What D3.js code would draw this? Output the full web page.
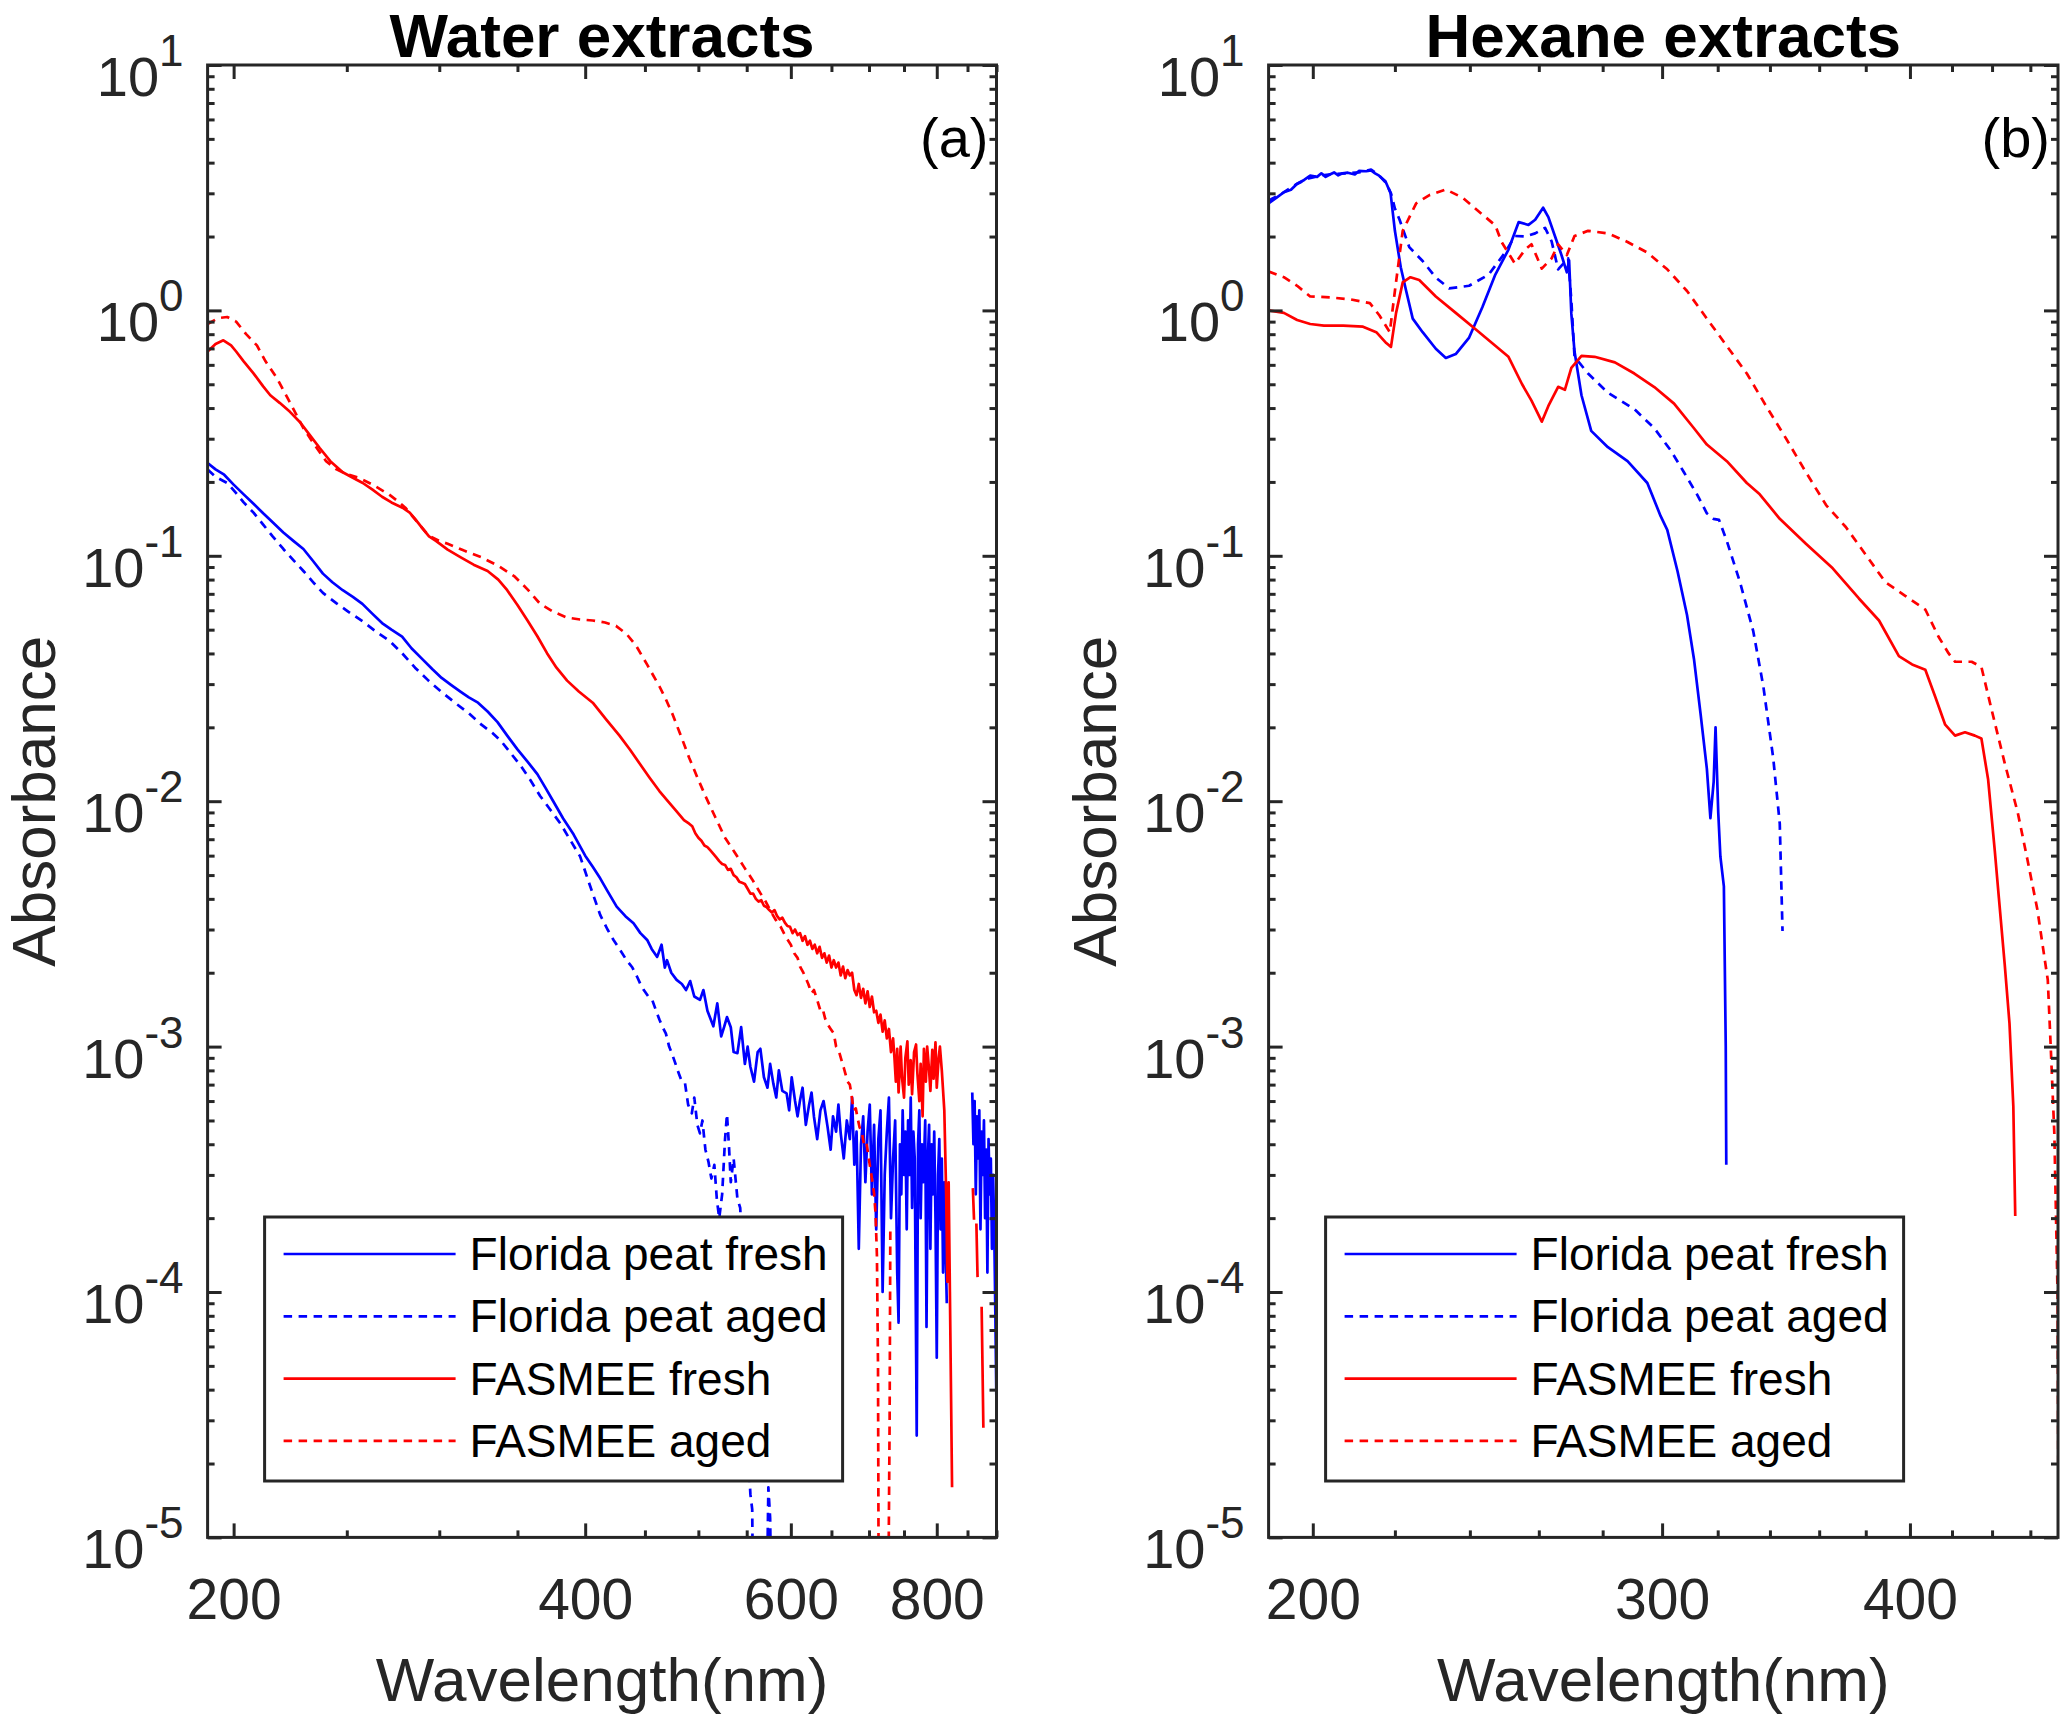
<!DOCTYPE html>
<html lang="en">
<head>
<meta charset="utf-8">
<style>
  body { margin: 0; background: #fff; }
  svg { display: block; font-family: "Liberation Sans", Arial, Helvetica, sans-serif; }
</style>
<script src="https://cdn.jsdelivr.net/npm/d3@7"></script>
</head>
<body>
<script>
// ---- data: [wavelength nm, absorbance] ; null = gap (value <= 0 in the log plot)

// Water extracts
const waterPeatFresh = [
  [190,0.239],[193,0.225],[196.3,0.214],[200,0.195],[204,0.178],[208,0.163],[212,0.149],[216,0.137],
  [220.6,0.1244],[225,0.115],[229.5,0.1066],[234,0.095],[238.5,0.0846],[243,0.078],[248,0.0724],[253,0.068],
  [257.8,0.0637],[263,0.058],[268,0.0532],[273,0.05],[278.8,0.0468],[284,0.042],[290,0.038],[296,0.0345],
  [301.4,0.0318],[307,0.0298],[313,0.0279],[318,0.0265],[323.8,0.0252],[330,0.0232],[336.5,0.021],[343,0.0185],
  [350,0.01626],[357,0.0145],[364,0.0129],[370,0.0113],[375.8,0.00995],[383,0.0085],[391,0.00731],[400,0.006],
  [406,0.0054],[412,0.00485],[418,0.0043],[425.6,0.00372],[433,0.0034],[440,0.00318],[446,0.0029],[452,0.00272],
  [456,0.0025],[461,0.00232],[465,0.0026],[468,0.0021],[470,0.00225],[474,0.002],[479,0.00187],[484,0.0018],
  [488,0.0017],[492,0.00185],[496,0.0016],[501.6,0.00155],[505,0.0017],[509,0.0014],[515,0.00121],[519,0.0015],
  [523,0.0011],[526,0.0012],[529,0.00132],[533,0.0012],[536,0.00095],[540,0.00094],[544,0.0012],[548,0.00085],
  [551,0.001],[554,0.000828],[558,0.00072],[562,0.00095],[565,0.00098],[569,0.00075],[573,0.00068],[576,0.00085],
  [579.6,0.000708],[583,0.00062],[586,0.0008],[590,0.00066],[595,0.000645],[598,0.00055],[601,0.00075],[605,0.0006],
  [608,0.00052],[611,0.000605],[614,0.00068],[618,0.00048],[622,0.00058],[625,0.00065],[628,0.000518],[632,0.00042],
  [636,0.00055],[640,0.0006],[645,0.000472],[649,0.00038],[652,0.00052],[656,0.00045],[659,0.00058],[662,0.000443],
  [666,0.00035],[670,0.0005],[674,0.00042],[677,0.00062],[680,0.00033],[683,0.00045],[686,0.00015],[689,0.0004],
  [692,0.00052],[695,0.00028],[698,0.00045],[701,0.00058],[704,0.00025],[707,0.00048],[710,0.00018],[713,0.00042],
  [716,0.00055],[719,0.0001],[722,0.0003],[725,0.00045],[728,0.00062],[731,0.0002],[734,0.00035],[737,0.0005],
  [740,0.00012],[742,0.000075],[744,0.0004],[746,0.00025],[748,0.00055],[750,0.0003],[752,0.00045],[754,0.00018],
  [756,0.0005],[758,0.0003],[760,0.00062],[762,0.00022],[764,0.00045],[766,0.00035],[769,0.000026],[771,0.0004],
  [773,0.00055],[775,0.0002],[777,0.0004],[779,0.00028],[782,0.0005],[784,0.000072],[786,0.00035],[788,0.00048],
  [790,0.00015],[792,0.0004],[794,0.00025],[796,0.00045],[798,0.0002],[800,0.000054],[802,0.0003],[804,0.00042],
  [806,0.00018],[808,0.00035],[810,0.00012],[812,0.00028],[814,0.00015],[816,0.00009],[818,null],
  [858,0.00065],[860,0.0004],[862,0.0006],[864,0.00025],[866,0.00052],[868,0.00035],[870,0.00055],[872,0.00018],
  [874,0.00045],[876,0.0003],[878,0.0005],[880,0.0002],[882,0.00038],[884,0.00012],[886,0.00042],[888,0.00025],
  [890,0.00035],[892,0.00015],[894,0.0003],[896,0.00018],[898,0.00008],[900,0.000033]
];

const waterPeatAged = [
  [190,0.225],[193,0.21],[197.5,0.198],[201,0.18],[204,0.165],[208,0.15],[212,0.134],[216,0.12],
  [220.6,0.1066],[225,0.096],[229.5,0.0867],[234,0.078],[238.5,0.0706],[245,0.064],[251,0.059],[258,0.054],
  [264.7,0.0492],[272,0.045],[278.8,0.0401],[286,0.035],[293.7,0.031],[301,0.028],[309.4,0.0252],[318,0.0228],
  [326,0.0205],[333,0.019],[338.8,0.0176],[345,0.0158],[352.4,0.0139],[359,0.0122],[366,0.0105],[373,0.0093],
  [381,0.0081],[388,0.007],[396,0.00596],[404,0.0045],[412,0.00344],[418,0.003],[423,0.00272],[428,0.0025],
  [434,0.00225],[439,0.0021],[443,0.00193],[446,0.0018],[449,0.0017],[453,0.0016],[456.5,0.00155],[460,0.0014],
  [463,0.00129],[466,0.0012],[469,0.00113],[472,0.001],[474.5,0.00094],[478,0.00085],[481,0.000778],[484,0.00072],
  [487,0.00071],[490,0.00058],[493.6,0.000535],[496,0.00062],[499,0.00048],[501.6,0.000443],[504,0.0005],[507,0.00038],
  [510,0.00034],[513,0.00029],[516,0.00033],[518.6,0.000237],[521,0.0002],[524,0.00025],[527,0.00042],[529,0.00053],
  [531,0.0004],[533,0.00028],[536,0.00035],[540,0.00024],[543,0.00022],[545,0.00015],[548,0.00008],[551,0.000025],
  [554,0.000015],[556,0.000013],[557,0.000005],[560,null],
  [572,0.000005],[574,0.000016],[576,0.000012],[578,0.000004],[580,null]
];

const waterFasFresh = [
  [190,0.68],[193,0.73],[196,0.755],[199,0.72],[201,0.68],[204,0.62],[208,0.554],[212,0.49],
  [215,0.451],[219,0.42],[223.5,0.386],[228,0.35],[232,0.314],[237,0.275],[242,0.243],[248,0.219],
  [253,0.208],[258,0.198],[263,0.186],[268,0.174],[273,0.165],[279,0.157],[283,0.15],[286,0.1415],
  [290,0.13],[294,0.12],[298,0.115],[305,0.106],[313,0.0986],[321,0.092],[330,0.0867],[337,0.08],
  [343,0.0724],[350,0.063],[357,0.0545],[364,0.047],[371,0.0401],[378,0.035],[386,0.031],[395,0.028],
  [406,0.0252],[417,0.0215],[428,0.0185],[437,0.0162],[445,0.0143],[454,0.0125],[463,0.011],[470,0.0101],
  [478,0.0092],[486,0.00837],[491,0.0081],[494,0.0079],[497,0.0074],[500,0.0071],[503,0.0069],[506,0.0066],
  [509,0.0065],[512,0.0063],[515,0.0061],[518,0.0059],[521,0.0057],[524,0.00555],[527,0.0055],[530,0.00525],
  [533,0.0053],[536,0.005],[539,0.0049],[542,0.0047],[545,0.00465],[548,0.0046],[551,0.0044],[554,0.0042],
  [557,0.0042],[560,0.004],[563,0.0039],[566,0.00395],[569,0.00375],[572,0.0037],[575,0.0036],[578,0.00352],
  [581,0.0036],[584,0.0034],[587,0.0033],[590,0.00335],[593,0.0032],[596,0.0031],[599,0.00308],[602,0.0029],
  [605,0.003],[608,0.00285],[611,0.0029],[614,0.0027],[617,0.00282],[620,0.0026],[623,0.0027],[626,0.0025],
  [629,0.0026],[632,0.0024],[635,0.00255],[638,0.0023],[641,0.0024],[644,0.0022],[647,0.00235],[650,0.0021],
  [653,0.00225],[656,0.0021],[659,0.0022],[662,0.00195],[665,0.00212],[668,0.0019],[671,0.00205],[674,0.00195],
  [677,0.002],[680,0.0017],[683,0.00162],[686,0.0018],[689,0.00158],[692,0.00172],[695,0.0015],[698,0.00168],
  [701,0.00145],[704,0.0016],[707,0.00138],[710,0.0014],[713,0.00125],[716,0.00135],[719,0.00115],[722,0.00128],
  [725,0.00108],[728,0.00118],[731,0.00095],[734,0.00108],[736,0.0009],[738,0.00072],[740,0.00098],[742,0.00065],
  [745,0.001],[747,0.00075],[750,0.00062],[752,0.0009],[755,0.00105],[757,0.0007],[760,0.00088],[762,0.00064],
  [765,0.00095],[768,0.00102],[770,0.00078],[773,0.0006],[775,0.00085],[778,0.00052],[780,0.00098],[783,0.00072],
  [785,0.001],[788,0.0008],[790,0.00066],[793,0.00097],[795,0.00074],[798,0.00104],[800,0.00068],[803,0.0009],
  [805,0.001],[808,0.0008],[812,0.00055],[815,0.00025],[817,0.00011],[819,0.00028],[821,0.0001],[823,0.000035],
  [824.5,0.000016],[826,null],
  [859,0.000265],[861,0.000197],[863,null],[865,0.00019],[867,0.000115],[870,null],
  [874,0.000087],[875.5,0.00005],[877,0.000028],[879,null]
];

const waterFasAged = [
  [190,0.88],[194,0.93],[197.5,0.94],[201,0.9],[205,0.8],[209.4,0.72],[213,0.62],[217.8,0.53],
  [223,0.43],[229.5,0.331],[235,0.28],[240,0.243],[245,0.225],[250,0.215],[256,0.208],[263,0.195],
  [271.6,0.178],[276,0.168],[280.6,0.157],[287,0.138],[293.7,0.121],[300,0.115],[305,0.112],[315,0.105],
  [326,0.0986],[337,0.091],[348,0.0824],[357,0.073],[366,0.0637],[376,0.059],[386,0.056],[396,0.055],
  [406,0.0545],[416,0.0535],[425,0.0518],[434,0.048],[442,0.0432],[452,0.036],[463,0.0294],[469,0.026],
  [475,0.0227],[483,0.0185],[491,0.01503],[499,0.0125],[507,0.0105],[517,0.0086],[527,0.0071],[537,0.0062],
  [547,0.0054],[556,0.0048],[565,0.00422],[571,0.0039],[576,0.0036],[582,0.0033],[588,0.00308],[594,0.0028],
  [600,0.0026],[604,0.0024],[608,0.0023],[611,0.00212],[615,0.002],[618,0.0019],[621,0.0018],[625,0.00165],
  [628,0.0017],[632,0.00155],[636,0.0014],[639,0.00142],[642,0.0013],[646,0.00122],[649,0.00118],[653,0.00113],
  [656,0.001],[660,0.00095],[663,0.00088],[666,0.00082],[668,0.000778],[671,0.00072],[674,0.0007],[676,0.000645],
  [679,0.00055],[682,0.00056],[684,0.000518],[687,0.00047],[690,0.00045],[693,0.0004],[696,0.00041],[698,0.000379],
  [701,0.00033],[704,0.00029],[707,0.000252],[709,0.00021],[711,0.00014],[712.5,0.00005],[713.5,0.000005],
  [720,0.000002],[727,0.000005],[729,0.00003],[730,0.00018],[731,null]
];

// Hexane extracts
const hexPeatFresh = [
  [190,2.73],[192,2.9],[193.4,3.03],[195,3.1],[196.4,3.28],[198,3.4],[199.4,3.54],[201,3.5],
  [202,3.62],[203,3.5],[204,3.58],[205,3.65],[206,3.55],[207,3.62],[208.3,3.64],[210,3.58],
  [211,3.7],[212.8,3.69],[214,3.72],[215,3.62],[216,3.54],[217.6,3.36],[218.9,3.0],[220,2.11],
  [221.5,1.5],[222.9,1.2],[224.6,0.926],[227.2,0.815],[230.7,0.698],[233.4,0.64],[236.1,0.664],[239.8,0.775],
  [243.5,1.03],[247.2,1.4],[251,1.77],[254,2.29],[256.9,2.23],[258.9,2.34],[261.3,2.62],[262.9,2.4],
  [264.9,2.01],[267,1.67],[268.6,1.43],[269.3,1.6],[270,0.97],[271,0.68],[273.2,0.451],[276.3,0.323],
  [281.7,0.277],[288.2,0.243],[294.9,0.198],[299.5,0.145],[301.8,0.1276],[305.4,0.0867],[308.8,0.0574],[311.3,0.038],
  [313.7,0.0227],[316,0.01355],[317.3,0.00853],[318.5,0.012],[319.2,0.02],[320.2,0.009],[321,0.00594],[322.3,0.0045],
  [323,0.001],[323.2,0.00033]
];

const hexPeatAged = [
  [190,2.8],[193,3.0],[196,3.25],[199,3.45],[202,3.55],[205,3.6],[208,3.62],[211,3.65],
  [214,3.75],[216,3.55],[217.8,3.3],[219,3.0],[220,2.6],[221.2,2.34],[223.7,1.81],[227.2,1.59],
  [230.7,1.36],[234.3,1.23],[239.8,1.26],[245.3,1.4],[250,1.72],[252.9,2.01],[255.9,2.0],[258.9,2.06],
  [261.9,2.17],[263.9,1.91],[265.9,1.47],[267.5,1.55],[269,1.63],[270,1.1],[271,0.647],[275.3,0.553],
  [281.7,0.462],[290.5,0.396],[297.3,0.331],[303,0.269],[307.7,0.219],[312.4,0.178],[316,0.149],[318.4,0.1415],
  [320.5,0.14],[323.4,0.115],[328.4,0.078],[333.5,0.0492],[337.4,0.0294],[341.3,0.015],[343.9,0.0081],[345,0.00296]
];

const hexFasFresh = [
  [190,1.0],[193.4,0.977],[196.4,0.914],[199.4,0.88],[202.6,0.867],[207.2,0.867],[212,0.858],[215.3,0.815],
  [217.8,0.736],[219,0.71],[220.3,0.977],[222,1.3],[224,1.365],[226.3,1.33],[230.7,1.14],[236.1,0.977],
  [241.6,0.838],[247.2,0.718],[251,0.647],[255,0.5],[257.8,0.429],[260.9,0.352],[262.9,0.408],[265.9,0.488],
  [268,0.475],[270,0.583],[273.2,0.653],[277.4,0.647],[284,0.614],[290.5,0.553],[297.3,0.487],[304.2,0.417],
  [311.3,0.331],[316,0.284],[323.4,0.243],[331,0.198],[336,0.178],[343.9,0.1415],[354.5,0.112],[365.7,0.0889],
  [377,0.067],[385.9,0.0545],[394.9,0.039],[401,0.0361],[407.2,0.0343],[412,0.0265],[416.7,0.0205],[421.5,0.0185],
  [426.4,0.0191],[431.3,0.0185],[434.6,0.018],[438,0.01225],[441.4,0.00627],[443.5,0.00404],[446.5,0.00217],[449,0.00124],
  [451,0.00057],[452,0.000204]
];

const hexFasAged = [
  [190,1.44],[193.4,1.365],[196.4,1.26],[199.4,1.14],[204,1.13],[208.8,1.11],[213.7,1.07],[216.1,0.953],
  [218.7,0.815],[220,1.2],[222,2.11],[225.5,2.73],[229,2.95],[233.4,3.11],[238,2.88],[243.5,2.46],
  [247.2,2.22],[249,1.9],[252.9,1.55],[255.9,1.77],[257.8,1.86],[260.9,1.48],[263.9,1.63],[265.9,1.86],
  [268.6,1.68],[271,2.01],[275.3,2.11],[281.7,2.06],[288.2,1.9],[294.9,1.72],[301.8,1.47],[308.8,1.2],
  [316,0.926],[323.4,0.716],[331,0.553],[338.6,0.406],[346.6,0.2985],[354.5,0.219],[362.9,0.161],[371.3,0.131],
  [380,0.101],[388.8,0.078],[397.8,0.0687],[407.2,0.0604],[413.5,0.0468],[418.3,0.0401],[421.5,0.037],[429.7,0.037],
  [434.6,0.0352],[439.6,0.0239],[446.5,0.0143],[453.3,0.009],[458.4,0.0058],[463.7,0.00364],[469.4,0.00187],[471,0.001],
  [473,0.00044],[474.8,0.000095],[475.2,0.000017]
];

// ticks and labels
const waterMajor = [200, 400, 600, 800];
const waterMinor = [250, 300, 350, 450, 500, 550, 650, 700, 750, 850, 900];
const hexMajor = [200, 300, 400];
const hexMinor = [220, 240, 260, 280, 320, 340, 360, 380, 420, 440, 460];
const yExponents = [-5, -4, -3, -2, -1, 0, 1];
const yMinorMult = [2, 3, 4, 5, 6, 7, 8, 9];
const seriesNames = ["Florida peat fresh", "Florida peat aged", "FASMEE fresh", "FASMEE aged"];

// ---- layout
const W = 2067, H = 1718;
const plotTop = 65, plotBottom = 1537.4;
const axisColor = "#262626";
const dash = "8.5,6.5";
const seriesStyle = [
  { color: "#0000ff", dash: null },
  { color: "#0000ff", dash: dash },
  { color: "#ff0000", dash: null },
  { color: "#ff0000", dash: dash }
];

const panels = [
  { id: "a", title: "Water extracts", tag: "(a)", left: 207.6, right: 996.5, domain: [190, 900],
    major: waterMajor, minor: waterMinor,
    series: [waterPeatFresh, waterPeatAged, waterFasFresh, waterFasAged] },
  { id: "b", title: "Hexane extracts", tag: "(b)", left: 1268.6, right: 2058, domain: [190, 475],
    major: hexMajor, minor: hexMinor,
    series: [hexPeatFresh, hexPeatAged, hexFasFresh, hexFasAged] }
];

const svg = d3.select("body").append("svg")
  .attr("width", W)
  .attr("height", H);

const defs = svg.append("defs");

const y = d3.scaleLog().domain([1e-5, 10]).range([plotBottom, plotTop]);
const yMajor = yExponents.map(e => Math.pow(10, e));
const yMinor = [];
yExponents.slice(0, -1).forEach(e => {
  yMinorMult.forEach(m => yMinor.push(m * Math.pow(10, e)));
});

panels.forEach(p => {
  const x = d3.scaleLog().domain(p.domain).range([p.left, p.right]);
  const pw = p.right - p.left;
  const ph = plotBottom - plotTop;
  const g = svg.append("g");

  defs.append("clipPath").attr("id", "clip-" + p.id)
    .append("rect")
    .attr("x", p.left).attr("y", plotTop)
    .attr("width", pw).attr("height", ph);

  // curves
  const line = d3.line()
    .defined(d => d[1] != null && d[1] > 0)
    .x(d => x(d[0]))
    .y(d => y(d[1]));

  const curves = g.append("g").attr("clip-path", "url(#clip-" + p.id + ")");
  p.series.forEach((s, i) => {
    curves.append("path")
      .datum(s)
      .attr("d", line)
      .attr("fill", "none")
      .attr("stroke", seriesStyle[i].color)
      .attr("stroke-width", 2.7)
      .attr("stroke-linejoin", "round")
      .attr("stroke-dasharray", seriesStyle[i].dash);
  });

  // ticks (inside the box, all four sides)
  function tickAxis(axis, values, size, transform) {
    const a = g.append("g")
      .attr("transform", transform)
      .call(axis.tickValues(values).tickSizeInner(-size).tickSizeOuter(0).tickFormat(() => ""));
    a.select(".domain").remove();
    a.selectAll("line").attr("stroke", axisColor).attr("stroke-width", 3);
    return a;
  }
  tickAxis(d3.axisTop(x), p.major, 14, `translate(0,${plotTop})`);
  tickAxis(d3.axisTop(x), p.minor, 7, `translate(0,${plotTop})`);
  tickAxis(d3.axisBottom(x), p.minor, 7, `translate(0,${plotBottom})`);
  tickAxis(d3.axisLeft(y), yMajor, 14, `translate(${p.left},0)`);
  tickAxis(d3.axisLeft(y), yMinor, 7, `translate(${p.left},0)`);
  tickAxis(d3.axisRight(y), yMajor, 14, `translate(${p.right},0)`);
  tickAxis(d3.axisRight(y), yMinor, 7, `translate(${p.right},0)`);

  // bottom major ticks with labels
  const xb = g.append("g")
    .attr("transform", `translate(0,${plotBottom})`)
    .call(d3.axisBottom(x).tickValues(p.major).tickSizeInner(-14).tickSizeOuter(0)
      .tickPadding(41).tickFormat(d3.format("d")));
  xb.select(".domain").remove();
  xb.attr("font-size", null).attr("font-family", null);
  xb.selectAll("line").attr("stroke", axisColor).attr("stroke-width", 3);
  xb.selectAll("text").attr("fill", axisColor).style("font-size", "57px");

  // y tick labels 10^n
  const yl = g.append("g").attr("fill", axisColor);
  yExponents.forEach(e => {
    const t = yl.append("text")
      .attr("x", p.left - 24)
      .attr("y", y(Math.pow(10, e)) + 31)
      .attr("text-anchor", "end")
      .style("font-size", "56px");
    t.append("tspan").text("10");
    t.append("tspan").attr("dy", -30).style("font-size", "44px").text(String(e));
  });

  // frame
  g.append("rect")
    .attr("x", p.left).attr("y", plotTop)
    .attr("width", pw).attr("height", ph)
    .attr("fill", "none")
    .attr("stroke", axisColor)
    .attr("stroke-width", 3);

  // title, panel tag, axis labels
  g.append("text")
    .attr("x", (p.left + p.right) / 2).attr("y", 57)
    .attr("text-anchor", "middle")
    .style("font-size", "62px").style("font-weight", "bold")
    .attr("fill", "#000")
    .text(p.title);

  g.append("text")
    .attr("x", p.right - 8).attr("y", 157)
    .attr("text-anchor", "end")
    .style("font-size", "56px")
    .attr("fill", "#000")
    .text(p.tag);

  g.append("text")
    .attr("x", (p.left + p.right) / 2).attr("y", 1701)
    .attr("text-anchor", "middle")
    .style("font-size", "62px")
    .attr("fill", axisColor)
    .text("Wavelength(nm)");

  g.append("text")
    .attr("transform", `translate(${p.left - 153},${(plotTop + plotBottom) / 2}) rotate(-90)`)
    .attr("text-anchor", "middle")
    .style("font-size", "62px")
    .attr("fill", axisColor)
    .text("Absorbance");

  // legend
  const lx = p.left + 57, ly = 1217, lw = 578, lh = 264;
  const lg = g.append("g");
  lg.append("rect")
    .attr("x", lx).attr("y", ly).attr("width", lw).attr("height", lh)
    .attr("fill", "#fff")
    .attr("stroke", axisColor)
    .attr("stroke-width", 3);
  seriesNames.forEach((name, i) => {
    const ry = ly + 37 + i * 62.3;
    lg.append("line")
      .attr("x1", lx + 19).attr("x2", lx + 191)
      .attr("y1", ry).attr("y2", ry)
      .attr("stroke", seriesStyle[i].color)
      .attr("stroke-width", 2.7)
      .attr("stroke-dasharray", seriesStyle[i].dash);
    lg.append("text")
      .attr("x", lx + 205).attr("y", ry + 16)
      .style("font-size", "46px")
      .attr("fill", "#000")
      .text(name);
  });
});
</script>
</body>
</html>
